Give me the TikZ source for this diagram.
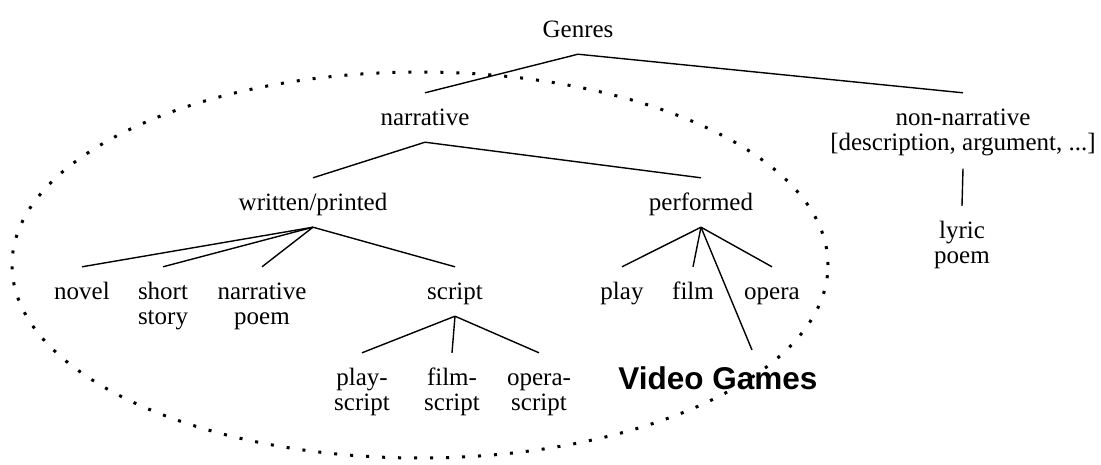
\documentclass[tikz,border=0pt]{standalone}
\usepackage{fontspec}
\setmainfont{Liberation Serif}
\newfontfamily\vgfont{Liberation Sans}
\begin{document}
\begin{tikzpicture}[x=1pt,y=-1pt,
  lbl/.style={font=\fontsize{25}{25}\selectfont, inner xsep=0pt, inner ysep=13pt, text height=19pt, text depth=4pt, anchor=base},
  lbltwo/.style={font=\fontsize{25}{25}\selectfont, inner xsep=0pt, inner ysep=13pt, align=center, anchor=base},
  vgstyle/.style={font=\vgfont\bfseries\fontsize{31.5}{32}\selectfont, inner xsep=0pt, inner ysep=16pt, anchor=base},
  edge/.style={line width=1.4pt},
  dots/.style={line width=3pt, dash pattern=on 3pt off 13pt}]
\fill[white] (0,0) rectangle (1101,464);
\useasboundingbox (0,0) rectangle (1101,464);
\draw[dots] (420,265) ellipse [x radius=408pt, y radius=193pt];

% single-line nodes: placed at their baseline
\node[lbl] (genres) at (578,37) {Genres};
\node[lbl] (narr) at (425,125) {narrative};
\node[lbl] (written) at (313,210) {written/printed};
\node[lbl] (perf) at (701,210) {performed};
\node[lbl] (novel) at (82,299) {novel};
\node[lbl] (script) at (455,299) {script};
\node[lbl] (play) at (622,299) {play};
\node[lbl] (film) at (693,299) {film};
\node[lbl] (opera) at (772,299) {opera};
% two-line nodes: placed at the baseline of their last line
\node[lbltwo] (nonnarr) at (963,150) {\rule{0pt}{19pt}non-narrative\\\mbox{[description, argument, ...]}};
\node[lbltwo] (short) at (163,324) {\rule{0pt}{19pt}short\\story};
\node[lbltwo] (npoem) at (262,324) {\rule{0pt}{19pt}narrative\\poem};
\node[lbltwo] (pscript) at (362,410) {\rule{0pt}{19pt}play-\\script};
\node[lbltwo] (fscript) at (452,410) {\rule{0pt}{19pt}film-\\script};
\node[lbltwo] (oscript) at (539,410) {\rule{0pt}{19pt}opera-\\script};
\node[lbltwo] (lyric) at (962,263) {\rule{0pt}{19pt}lyric\\poem};
\node[vgstyle] (vg) at (718,389) {Video Games};

\draw[edge] (genres.south) -- (narr.north);
\draw[edge] (genres.south) -- (nonnarr.north);
\draw[edge] (narr.south) -- (written.north);
\draw[edge] (narr.south) -- (perf.north);
\draw[edge] (written.south) -- (novel.north);
\draw[edge] (written.south) -- (short.north);
\draw[edge] (written.south) -- (npoem.north);
\draw[edge] (written.south) -- (script.north);
\draw[edge] (script.south) -- (pscript.north);
\draw[edge] (script.south) -- (fscript.north);
\draw[edge] (script.south) -- (oscript.north);
\draw[edge] (perf.south) -- (play.north);
\draw[edge] (perf.south) -- (film.north);
\draw[edge] (perf.south) -- (opera.north);
\draw[edge] (perf.south) -- ([xshift=34pt]vg.north);
\draw[edge] (nonnarr.south) -- (lyric.north);
\end{tikzpicture}
\end{document}
